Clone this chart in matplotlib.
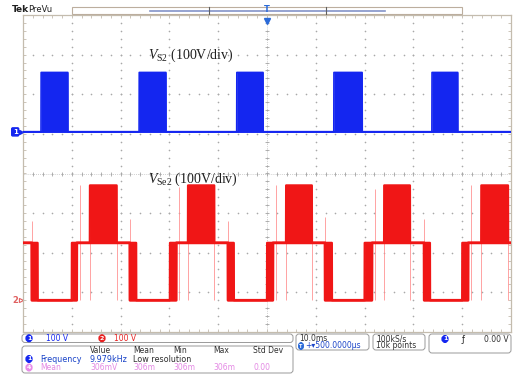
import matplotlib.pyplot as plt
import matplotlib.patches as mpatches
import matplotlib.transforms as mtransforms
import numpy as np

# channel settings (divisions on screen)
volts_per_div = 100.0
us_per_div = 50.0
ch1_offset = 1.05
ch2_offset = -3.2

# CH1: V_S2 pulse train (us, V)
blue_on = [18.5, 119, 219, 318.5, 419]
blue_off = [46, 146.5, 246, 347.5, 445.5]
blue_high = 150.0

# CH2: V_Se2 three-level waveform (us, V)
red_mid = 145.0
red_high = 290.0
red_fall_start = [9, 109.5, 210, 309.5, 411]
red_fall_end = [15, 116, 216, 316.5, 417]
red_rise_start = [50, 150.5, 250, 350, 450]
red_rise_end = [55, 157, 256, 357.5, 456]
red_high_start = [68.5, 169, 269.5, 370, 469.5]
red_high_end = [96, 196, 296, 396.5, 497]

# ringing spikes on CH2 (us, V)
spike_t = [9, 58, 68.5, 96, 109.5, 160, 169, 196, 210, 259,
           269.5, 296, 309.5, 360.5, 370, 396.5, 411, 459, 469.5, 497]
spike_lo = [145, 0, 0, 0, 145, 0, 0, 0, 145, 0,
            0, 0, 145, 0, 0, 0, 145, 0, 0, 0]
spike_hi = [200, 290, 230, 230, 205, 285, 240, 235, 200, 290,
            235, 240, 210, 280, 230, 235, 205, 290, 240, 230]

BLUE = '#1426f0'
RED = '#f01616'
FRAME = '#c4bcae'
DOT = '#a8a8a8'

W, H = 515, 383
fig = plt.figure(figsize=(W / 100, H / 100), dpi=100)
px = mtransforms.Affine2D().scale(1, -1).translate(0, H)

ax = fig.add_axes([23 / W, (H - 332) / H, 488 / W, 317 / H])
ax.set_xlim(0, 10 * us_per_div)
ax.set_ylim(-4, 4)
ax.set_xticks([])
ax.set_yticks([])
for sp in ax.spines.values():
    sp.set_color(FRAME)
    sp.set_linewidth(0.9)

# graticule: dotted division lines
minor_x = np.arange(0, 500.01, 10)
minor_y = np.arange(-4, 4.01, 0.2)
for k in range(1, 10):
    ax.scatter(np.full_like(minor_y, k * us_per_div), minor_y, s=1.4, c=DOT, lw=0, zorder=1)
for m in range(-3, 4):
    ax.scatter(minor_x, np.full_like(minor_x, m), s=1.4, c=DOT, lw=0, zorder=1)
ax.axhline(0, color='#c0c0c0', lw=0.6, ls=(0, (1, 1.5)), zorder=1)
ax.axvline(250, color='#c0c0c0', lw=0.6, ls=(0, (1, 1.5)), zorder=1)
ax.plot(minor_x, np.zeros_like(minor_x), ls='none', marker='|', ms=3.5, mew=0.6, color=DOT, zorder=1)
ax.plot(np.full_like(minor_y, 250), minor_y, ls='none', marker='_', ms=3.5, mew=0.6, color=DOT, zorder=1)
# ticks along the border
ax.plot(minor_x, np.full_like(minor_x, 3.97), ls='none', marker='|', ms=3, mew=0.6, color=FRAME, zorder=1)
ax.plot(minor_x, np.full_like(minor_x, -3.97), ls='none', marker='|', ms=3, mew=0.6, color=FRAME, zorder=1)
ax.plot(np.full_like(minor_y, 1.5), minor_y, ls='none', marker='_', ms=3, mew=0.6, color=FRAME, zorder=1)
ax.plot(np.full_like(minor_y, 498.5), minor_y, ls='none', marker='_', ms=3, mew=0.6, color=FRAME, zorder=1)

t = np.arange(0, 500.0, 0.05)

# CH1 envelope
b_lo = np.zeros_like(t)
b_hi = np.zeros_like(t)
for on, off in zip(blue_on, blue_off):
    b_hi[(t >= on) & (t < off)] = blue_high
y1_lo = ch1_offset + b_lo / volts_per_div
y1_hi = ch1_offset + b_hi / volts_per_div
ax.fill_between(t, y1_lo, y1_hi, color=BLUE, lw=0, zorder=3)
ax.plot(t, y1_lo, color=BLUE, lw=1.5, zorder=3)
ax.plot(t, y1_hi, color=BLUE, lw=1.2, zorder=3)

# CH2 envelope
r_lo = np.full_like(t, red_mid)
r_hi = np.full_like(t, red_mid)
for fs, fe in zip(red_fall_start, red_fall_end):
    sel = (t >= fs) & (t < fe)
    r_lo[sel] = 0
for fe, rs in zip(red_fall_end, red_rise_start):
    sel = (t >= fe) & (t < rs)
    r_lo[sel] = 0
    r_hi[sel] = 0
for rs, re in zip(red_rise_start, red_rise_end):
    sel = (t >= rs) & (t < re)
    r_lo[sel] = 0
for hs, he in zip(red_high_start, red_high_end):
    sel = (t >= hs) & (t < he)
    r_hi[sel] = red_high
y2_lo = ch2_offset + r_lo / volts_per_div
y2_hi = ch2_offset + r_hi / volts_per_div
ax.vlines(spike_t, ch2_offset + np.array(spike_lo) / volts_per_div,
          ch2_offset + np.array(spike_hi) / volts_per_div,
          color='#ff8c8c', lw=0.7, alpha=0.8, zorder=2)
ax.fill_between(t, y2_lo, y2_hi, color=RED, lw=0, zorder=3)
ax.plot(t, y2_lo, color=RED, lw=2.0, zorder=3)
ax.plot(t, y2_hi, color=RED, lw=1.6, zorder=3)

# waveform captions
plt.rcParams['mathtext.fontset'] = 'custom'
plt.rcParams['mathtext.rm'] = 'Liberation Serif'
plt.rcParams['mathtext.it'] = 'Liberation Serif:italic'
ax.text(128, 2.98, r'$V_{\mathrm{S2}}$ (100V/div)', family='Liberation Serif',
        fontsize=10, color='#202020', va='center', ha='left', zorder=5)
ax.text(128, -0.15, r'$V_{\mathrm{Se2}}$ (100V/div)', family='Liberation Serif',
        fontsize=10, color='#202020', va='center', ha='left', zorder=5)

# channel ground markers
ymark = ax.get_yaxis_transform()
ax.text(-0.016, ch1_offset, '1', transform=ymark, fontsize=5, color='white',
        weight='bold', ha='center', va='center',
        bbox=dict(boxstyle='round,pad=0.15', fc=BLUE, ec=BLUE), clip_on=False)
ax.text(-0.016, ch2_offset, '2', transform=ymark, fontsize=6, color='#e06060',
        weight='bold', ha='center', va='center', clip_on=False)
ax.plot([-0.004], [ch1_offset], transform=ymark, marker='>', ms=3, color=BLUE, clip_on=False)
ax.plot([-0.004], [ch2_offset], transform=ymark, marker='>', ms=3, mfc='none',
        mec='#e06060', mew=0.8, clip_on=False)

# trigger position marker
ax.plot([250], [3.85], marker='v', ms=5, color='#2a6ad8', clip_on=False, zorder=6)


def box(x0, y0, x1, y1, ec='#9a9a9a', fc='white', lw=0.7, r=3):
    p = mpatches.FancyBboxPatch((x0, H - y1), x1 - x0, y1 - y0,
                                boxstyle=f'round,pad=0,rounding_size={r}',
                                transform=mtransforms.IdentityTransform(),
                                ec=ec, fc=fc, lw=lw)
    fig.add_artist(p)


def label(x, y, s, color='#303030', size=5.5, **kw):
    fig.text(x, y, s, transform=px, color=color, fontsize=size, va='center', **kw)


def badge(x, y, s, fc, size=4.5):
    fig.text(x, y, s, transform=px, color='white', fontsize=size, weight='bold',
             ha='center', va='center',
             bbox=dict(boxstyle='round,pad=0.12,rounding_size=0.5', fc=fc, ec=fc))


# header and record view
label(12, 9.5, 'Tek', color='#202020', size=6.5, weight='bold')
label(28, 9.5, 'PreVu', color='#202020', size=6)
fig.add_artist(mpatches.Rectangle((72, H - 14), 390, 7,
                                  transform=mtransforms.IdentityTransform(),
                                  fc='white', ec='#bcae9e', lw=0.8))
fig.add_artist(plt.Line2D([150, 385], [10.5, 10.5], transform=px, color='#8494c8', lw=1.2))
for xv in (209, 326):
    fig.add_artist(plt.Line2D([xv, xv], [7, 14], transform=px, color='#606060', lw=0.8))
label(267, 9, 'T', color='#2a6ad8', size=6, weight='bold', ha='center')

# readout panel
box(22, 334, 293, 342.5)
badge(29, 338.3, '1', BLUE)
label(46, 338.3, '100 V', color=BLUE, size=5.5)
badge(102, 338.3, '2', '#e82020')
label(114, 338.3, '100 V', color='#e82020', size=5.5)

box(22, 346, 293, 373)
for xv, s in zip([90, 133, 173, 213, 253], ['Value', 'Mean', 'Min', 'Max', 'Std Dev']):
    label(xv, 350.5, s)
badge(29, 359, '1', BLUE)
label(40, 359, 'Frequency', color='#1a44c8', size=5.8)
label(90, 359, '9.979kHz', color='#1a44c8', size=5.8)
label(133, 359, 'Low resolution', size=5.8)
badge(29, 367.5, '4', '#e88ae8')
for xv, s in zip([40, 90, 133, 173, 213, 253], ['Mean', '306mV', '306m', '306m', '306m', '0.00']):
    label(xv, 367.5, s, color='#e48ae4', size=5.5)

box(296, 334, 369, 350)
label(299, 338.5, '10.0ms')
badge(301, 346, 'T', '#2a6ad8', size=3.5)
label(305, 346, '+\u25be500.0000\u00b5s', color='#1a44c8')

box(373, 334, 425, 350)
label(376, 338.5, '100kS/s')
label(376, 346, '10k points')

box(429, 334, 511, 353)
badge(445, 339, '1', BLUE)
label(462, 339, '\u0192', color='#202020', size=6)
label(509, 339, '0.00 V', ha='right')

fig.savefig('out.png', dpi=100)
